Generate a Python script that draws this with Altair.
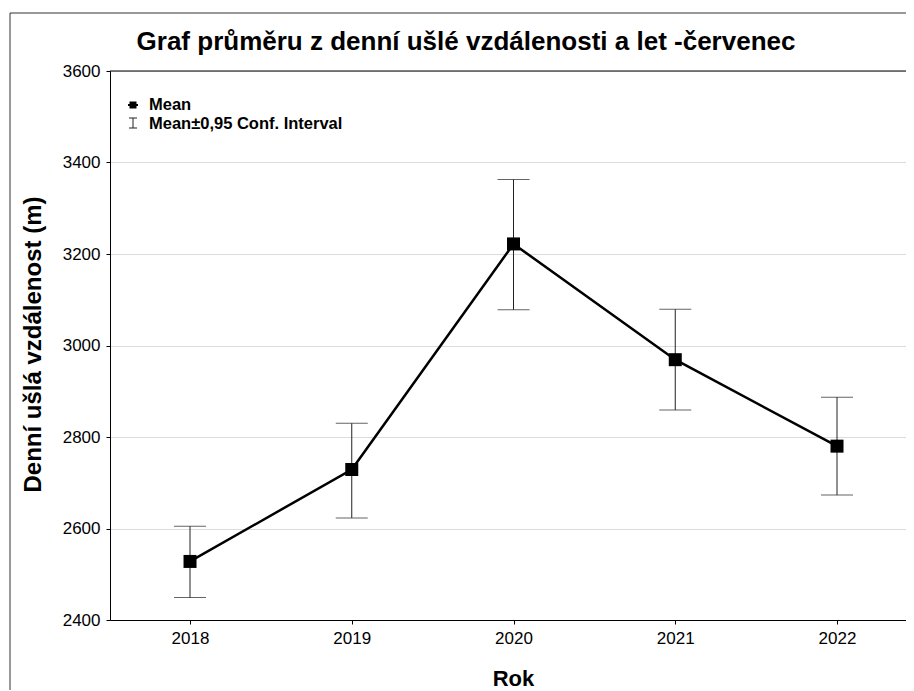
import altair as alt
import pandas as pd

years = ["2018", "2019", "2020", "2021", "2022"]
means = [2528, 2729, 3222, 2969, 2780]
ci_low = [2449, 2623, 3078, 2859, 2673]
ci_high = [2605, 2830, 3363, 3079, 2887]
y_ticks = [2400, 2600, 2800, 3000, 3200, 3400, 3600]
legend_labels = ["Mean", "Mean±0,95 Conf. Interval"]
title_text = "Graf průměru z denní ušlé vzdálenosti a let -červenec"
x_title = "Rok"
y_title = "Denní ušlá vzdálenost (m)"

df = pd.DataFrame({"Rok": years, "mean": means, "lo": ci_low, "hi": ci_high})

FONT = "Liberation Sans"
W, H = 796, 549

x_enc = alt.X(
    "Rok:O",
    scale=alt.Scale(type="point", padding=0.4606, align=0.537),
    axis=alt.Axis(
        title=x_title, labelAngle=0, labelFontSize=17, labelColor="black",
        tickSize=4, tickColor="black", domainColor="black", labelPadding=6,
        titleFontSize=22, titleFontWeight="bold", titleColor="black",
        titleX=403, titleY=65, titleBaseline="alphabetic", titleAlign="center",
        grid=False,
    ),
)
y_scale = alt.Scale(domain=[2400, 3600], nice=False, zero=False)
y_axis = alt.Axis(
    title=y_title, values=y_ticks, format="d", labelFontSize=17, labelColor="black",
    tickSize=4, tickColor="black", domainColor="black", labelPadding=6,
    grid=True, gridColor="#dcdcdc", gridWidth=1,
    titleFontSize=24, titleFontWeight="bold", titleColor="black",
    titleAngle=270, titleX=-77, titleY=273, titleAlign="center", titleBaseline="middle",
)

base = alt.Chart(df).encode(x=x_enc)

bars = base.mark_rule(color="#222222", strokeWidth=1).encode(
    y=alt.Y("lo:Q", scale=y_scale, axis=y_axis), y2="hi:Q"
)
cap_lo = base.mark_tick(orient="horizontal", size=32, thickness=1, color="#222222").encode(
    y=alt.Y("lo:Q", scale=y_scale, axis=y_axis)
)
cap_hi = base.mark_tick(orient="horizontal", size=32, thickness=1, color="#222222").encode(
    y=alt.Y("hi:Q", scale=y_scale, axis=y_axis)
)
line = base.mark_line(color="black", strokeWidth=2.5).encode(
    y=alt.Y("mean:Q", scale=y_scale, axis=y_axis)
)
pts = base.mark_square(size=169, color="black", opacity=1).encode(
    y=alt.Y("mean:Q", scale=y_scale, axis=y_axis)
)

one = pd.DataFrame({"k": [0]})
top_border = alt.Chart(one).mark_rule(color="black", strokeWidth=1).encode(
    x=alt.value(0), x2=alt.value(W + 20), y=alt.value(0)
)
frame_left = alt.Chart(one).mark_rule(color="#333333", strokeWidth=1).encode(
    x=alt.value(-100), y=alt.value(-58), y2=alt.value(H + 120)
)
frame_top = alt.Chart(one).mark_rule(color="#333333", strokeWidth=1).encode(
    x=alt.value(-100), x2=alt.value(W + 50), y=alt.value(-58)
)

title_mark = alt.Chart(pd.DataFrame({"t": [title_text]})).mark_text(
    align="center", baseline="alphabetic", fontSize=26, fontWeight="bold", font=FONT, color="black"
).encode(text="t:N", x=alt.value(356), y=alt.value(-21))

leg1_line = alt.Chart(one).mark_rule(color="black", strokeWidth=2).encode(
    x=alt.value(18), x2=alt.value(28), y=alt.value(34)
)
leg1_sq = alt.Chart(one).mark_square(size=49, color="black", opacity=1).encode(
    x=alt.value(23), y=alt.value(34)
)
leg1_txt = alt.Chart(pd.DataFrame({"label": [legend_labels[0]]})).mark_text(
    align="left", baseline="middle", fontSize=16.5, fontWeight="bold", font=FONT, color="black"
).encode(text="label:N", x=alt.value(39), y=alt.value(34))

leg2_v = alt.Chart(one).mark_rule(color="#222222", strokeWidth=1).encode(
    x=alt.value(23), y=alt.value(47), y2=alt.value(57)
)
leg2_t = alt.Chart(one).mark_rule(color="#222222", strokeWidth=1).encode(
    x=alt.value(19), x2=alt.value(27), y=alt.value(47)
)
leg2_b = alt.Chart(one).mark_rule(color="#222222", strokeWidth=1).encode(
    x=alt.value(19), x2=alt.value(27), y=alt.value(57)
)
leg2_txt = alt.Chart(pd.DataFrame({"label": [legend_labels[1]]})).mark_text(
    align="left", baseline="middle", fontSize=16.5, fontWeight="bold", font=FONT, color="black"
).encode(text="label:N", x=alt.value(39), y=alt.value(53))

chart = alt.layer(
    bars, cap_lo, cap_hi, line, pts, top_border, frame_left, frame_top, title_mark,
    leg1_line, leg1_sq, leg1_txt, leg2_v, leg2_t, leg2_b, leg2_txt,
).properties(
    width=W, height=H,
    autosize=alt.AutoSizeParams(type="none"),
    padding={"left": 102, "top": 63, "right": 0, "bottom": 70},
).configure_view(stroke=None).configure_axis(labelFont=FONT, titleFont=FONT)

chart.save("out.html", embed_options={"renderer": "svg", "actions": False})
